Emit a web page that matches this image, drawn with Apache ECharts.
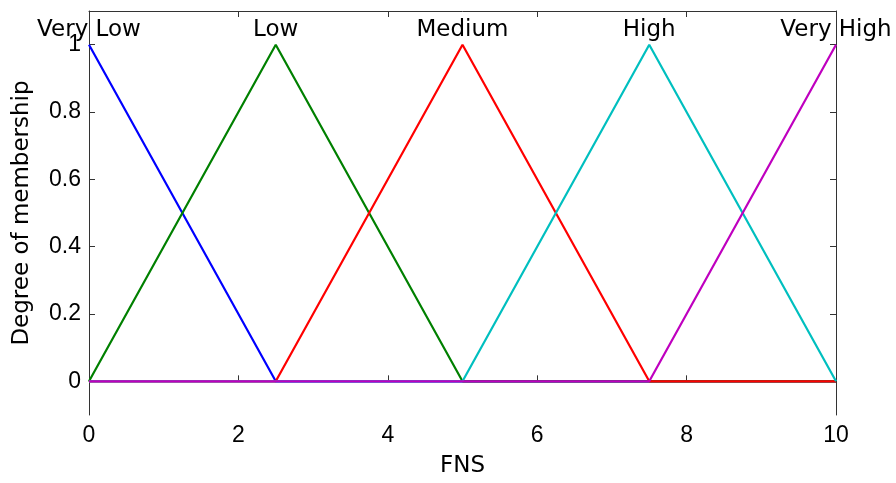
<!DOCTYPE html>
<html>
<head>
<meta charset="utf-8">
<script src="https://cdn.jsdelivr.net/npm/echarts@6/dist/echarts.min.js"></script>
<style>html,body{margin:0;padding:0;background:#fff;}#c{width:896px;height:483px;}</style>
</head>
<body>
<div id="c"></div>
<script>
const xPoints = [0, 2.5, 5, 7.5, 10];
const seriesNames = ['Very Low', 'Low', 'Medium', 'High', 'Very High'];
const veryLow  = [1, 0, 0, 0, 0];
const low      = [0, 1, 0, 0, 0];
const medium   = [0, 0, 1, 0, 0];
const high     = [0, 0, 0, 1, 0];
const veryHigh = [0, 0, 0, 0, 1];
const peaks = [0, 2.5, 5, 7.5, 10];
const colors = ['#0000ff', '#008000', '#ff0000', '#00bfbf', '#bf00bf'];
const yTicks = [0, 0.2, 0.4, 0.6, 0.8, 1];

const allValues = [veryLow, low, medium, high, veryHigh];
const tickFont = 'Liberation Sans, Arial, Helvetica, sans-serif';
const textFont = 'DejaVu Sans, Verdana, sans-serif';
const axisColor = '#333';

const series = allValues.map((vals, i) => ({
  type: 'line',
  name: seriesNames[i],
  data: xPoints.map((x, j) => [x, vals[j]]),
  symbol: 'none',
  lineStyle: { color: colors[i], width: 2.2 },
  itemStyle: { color: colors[i] },
  z: 2 + i,
  animation: false,
  markPoint: {
    symbol: 'circle',
    symbolSize: 0,
    animation: false,
    data: [{ coord: [peaks[i], 1], name: seriesNames[i] }],
    label: {
      show: true,
      position: 'top',
      distance: 3,
      formatter: '{b}',
      color: '#000',
      fontFamily: textFont,
      fontSize: 23
    }
  }
}));

const chart = echarts.init(document.getElementById('c'));
chart.setOption({
  backgroundColor: '#fff',
  animation: false,
  grid: { left: 89, right: 60, top: 11, bottom: 66 },
  xAxis: [{
    type: 'value', min: 0, max: 10, interval: 2,
    name: 'FNS', nameLocation: 'middle', nameGap: 40,
    nameTextStyle: { color: '#000', fontFamily: textFont, fontSize: 23 },
    axisLine: { show: true, lineStyle: { color: axisColor, width: 1 } },
    axisTick: { show: true, inside: true, length: 6, lineStyle: { color: axisColor } },
    axisLabel: { color: '#000', fontFamily: tickFont, fontSize: 23, margin: 9 },
    splitLine: { show: false }
  }, {
    type: 'value', min: 0, max: 10, interval: 2, position: 'top',
    axisLine: { show: true, onZero: false, lineStyle: { color: axisColor, width: 1 } },
    axisTick: { show: true, inside: true, length: 6, lineStyle: { color: axisColor } },
    axisLabel: { show: false },
    splitLine: { show: false }
  }],
  yAxis: [{
    type: 'value', min: -0.1, max: 1.1,
    name: 'Degree of membership', nameLocation: 'middle', nameGap: 55,
    nameTextStyle: { color: '#000', fontFamily: textFont, fontSize: 23 },
    axisLine: { show: true, onZero: false, lineStyle: { color: axisColor, width: 1 } },
    axisTick: { show: true, inside: true, length: 6, customValues: yTicks, lineStyle: { color: axisColor } },
    axisLabel: { color: '#000', fontFamily: tickFont, fontSize: 23, margin: 8, customValues: yTicks },
    splitLine: { show: false }
  }, {
    type: 'value', min: -0.1, max: 1.1, position: 'right',
    axisLine: { show: true, onZero: false, lineStyle: { color: axisColor, width: 1 } },
    axisTick: { show: true, inside: true, length: 6, customValues: yTicks, lineStyle: { color: axisColor } },
    axisLabel: { show: false, customValues: yTicks },
    splitLine: { show: false }
  }],
  series: series
});
</script>
</body>
</html>
